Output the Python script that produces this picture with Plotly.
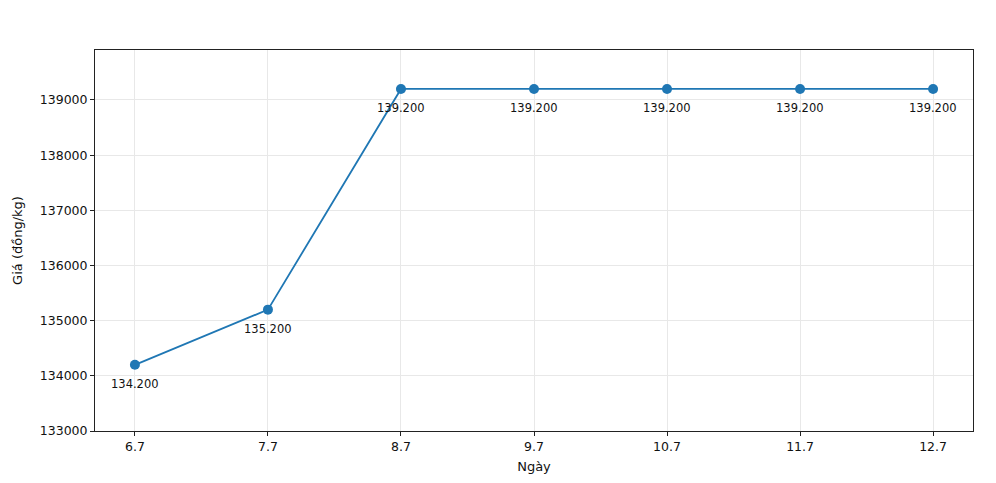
import plotly.graph_objects as go

dates = ["6.7", "7.7", "8.7", "9.7", "10.7", "11.7", "12.7"]
prices = [134200, 135200, 139200, 139200, 139200, 139200, 139200]
y_ticks = [133000, 134000, 135000, 136000, 137000, 138000, 139000]

xs = list(range(len(dates)))
labels = [f"{p:,}".replace(",", ".") for p in prices]

fig = go.Figure()
fig.add_trace(go.Scatter(
    x=xs, y=prices, mode="lines+markers",
    line=dict(color="#1f77b4", width=1.8),
    marker=dict(color="#1f77b4", size=10),
    hoverinfo="skip", showlegend=False,
))
for x, y, t in zip(xs, prices, labels):
    fig.add_annotation(x=x, y=y, text=t, showarrow=False, yshift=-19,
                       font=dict(family="DejaVu Sans", size=11.5, color="#111"))

axis_common = dict(
    showline=True, mirror=True, linecolor="#222", linewidth=1,
    ticks="outside", ticklen=4, tickcolor="#222",
    showgrid=True, gridcolor="#e8e8e8", gridwidth=1,
    zeroline=False,
    tickfont=dict(family="DejaVu Sans", size=12.5, color="#111"),
)
fig.update_xaxes(range=[-0.3, 6.3], tickvals=xs, ticktext=dates,
                 title=dict(text="Ngày", font=dict(family="DejaVu Sans", size=13, color="#111"), standoff=8),
                 **axis_common)
fig.update_yaxes(range=[133000, 139906], tickvals=y_ticks, ticktext=[str(v) for v in y_ticks],
                 title=dict(text="Giá (đồng/kg)", font=dict(family="DejaVu Sans", size=13, color="#111"), standoff=14),
                 **axis_common)
fig.update_layout(
    width=996, height=483,
    margin=dict(l=95, r=23, t=50, b=52),
    paper_bgcolor="white", plot_bgcolor="white",
)
fig.write_html("out.html")
